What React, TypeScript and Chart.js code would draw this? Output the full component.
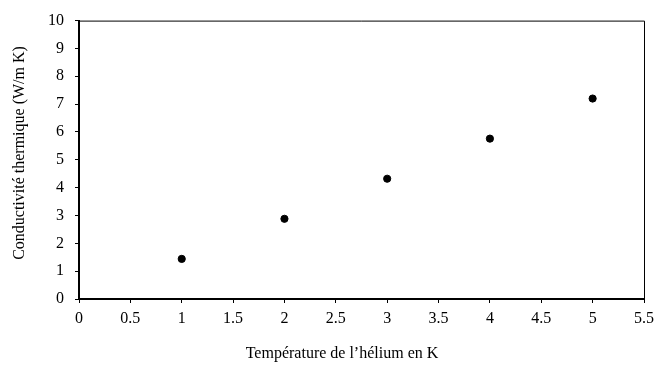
import React, { useEffect, useRef } from "react";
import { Chart, registerables } from "chart.js";

Chart.register(...registerables);

const temperatures = [1, 2, 3, 4, 5];
const conductivity = [1.44, 2.88, 4.32, 5.76, 7.2];
const xTickValues = [0, 0.5, 1, 1.5, 2, 2.5, 3, 3.5, 4, 4.5, 5, 5.5];
const yTickValues = [0, 1, 2, 3, 4, 5, 6, 7, 8, 9, 10];
const xTitle = "Température de l’hélium en K";
const yTitle = "Conductivité thermique (W/m K)";

const FONT = "'Liberation Serif', 'Times New Roman', serif";

const framePlugin = {
  id: "frame",
  afterDraw(chart: any) {
    const { ctx, chartArea } = chart;
    const { left, top, right, bottom } = chartArea;
    ctx.save();
    ctx.strokeStyle = "#000";
    ctx.lineWidth = 1;
    ctx.beginPath();
    ctx.moveTo(left, top + 0.5);
    ctx.lineTo(right + 0.5, top + 0.5);
    ctx.lineTo(right + 0.5, bottom);
    ctx.stroke();
    ctx.fillStyle = "#000";
    ctx.font = `16px ${FONT}`;
    ctx.textAlign = "center";
    ctx.textBaseline = "middle";
    // x-axis title
    ctx.fillText(xTitle, 342, 354);
    // y-axis title
    ctx.translate(20, 153);
    ctx.rotate(-Math.PI / 2);
    ctx.fillText(yTitle, 0, 0);
    ctx.restore();
  },
};

export default function App() {
  const ref = useRef<HTMLCanvasElement>(null);
  useEffect(() => {
    document.body.style.margin = "0";
    const chart = new Chart(ref.current!, {
      type: "scatter",
      data: {
        datasets: [
          {
            data: temperatures.map((t, i) => ({ x: t, y: conductivity[i] })),
            backgroundColor: "#000",
            borderColor: "#000",
            pointRadius: 3.6,
            pointHoverRadius: 3.6,
          },
        ],
      },
      options: {
        responsive: false,
        animation: false,
        layout: { padding: { top: 18, right: 11, left: 0, bottom: 0 } },
        plugins: { legend: { display: false }, tooltip: { enabled: false } },
        scales: {
          x: {
            type: "linear",
            min: 0,
            max: 5.5,
            afterBuildTicks: (s: any) => {
              s.ticks = xTickValues.map((v) => ({ value: v }));
            },
            afterFit: (s: any) => {
              s.height = 66;
            },
            ticks: {
              color: "#000",
              font: { family: FONT, size: 16 },
              padding: 6,
              maxRotation: 0,
              autoSkip: false,
              callback: (v: any) => String(v),
            },
            grid: { drawOnChartArea: false, drawTicks: true, tickLength: 4, color: "#000", lineWidth: 1 },
            border: { color: "#000", width: 2 },
          },
          y: {
            type: "linear",
            min: 0,
            max: 10,
            afterBuildTicks: (s: any) => {
              s.ticks = yTickValues.map((v) => ({ value: v }));
            },
            afterFit: (s: any) => {
              s.width = 79;
            },
            ticks: {
              color: "#000",
              font: { family: FONT, size: 16 },
              padding: 11,
              autoSkip: false,
              callback: (v: any) => String(v),
            },
            grid: { drawOnChartArea: false, drawTicks: true, tickLength: 4, color: "#000", lineWidth: 1 },
            border: { color: "#000", width: 2 },
          },
        },
      },
      plugins: [framePlugin],
    });
    return () => chart.destroy();
  }, []);
  return (
    <div style={{ position: "absolute", left: 0, top: 0, width: 660, height: 365 }}>
      <canvas ref={ref} width={660} height={365} style={{ display: "block" }} />
    </div>
  );
}
